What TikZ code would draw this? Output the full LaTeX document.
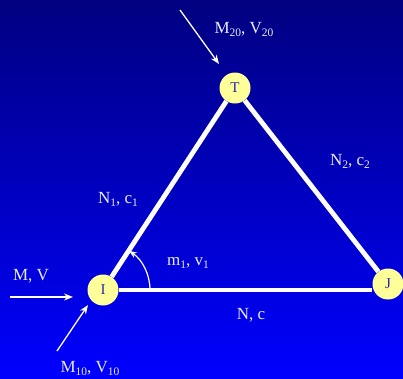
\documentclass[tikz,border=0pt]{standalone}
\usepackage{fontspec}
\setmainfont{Liberation Serif}
\usetikzlibrary{arrows.meta}
\definecolor{bgtop}{RGB}{0,0,128}
\definecolor{bgbot}{RGB}{0,0,255}
\definecolor{nodefill}{RGB}{255,255,153}
\definecolor{nodetext}{RGB}{40,40,170}
\definecolor{lbltext}{RGB}{235,235,255}
\newcommand\sbx[1]{\raisebox{-3.5pt}{\fontsize{11.5}{11.5}\selectfont #1}}
\tikzset{
  joint/.style={circle, fill=nodefill, minimum size=31pt, inner sep=0pt,
    text=nodetext, font=\fontsize{15}{15}\selectfont},
  member/.style={draw=white, line width=4.8pt},
  load/.style={draw=white, line width=1.3pt, -{Stealth[length=9pt,width=7pt]}},
  lbl/.style={text=lbltext, font=\fontsize{17}{19}\selectfont, inner sep=0pt, anchor=base}
}
\begin{document}
\begin{tikzpicture}[x=1pt,y=-1pt]
\useasboundingbox (0,0) rectangle (403,378);
\shade[top color=bgtop, bottom color=bgbot] (0,0) rectangle (403,378);

\node[joint] (I) at (103,290) {I};
\node[joint] (T) at (235,88) {T};
\node[joint] (J) at (388,284) {J};

\draw[member] (I) -- (T);
\draw[member] (T) -- (J);
\draw[member] (I.east) -- (I.east -| J.west);

% angle arc
\draw[white, line width=1.2pt, -{Stealth[length=8pt,width=6pt]}]
  ([shift={(0:47)}]I.center) arc[start angle=0, end angle=-56.5, radius=47];

% loads
\coordinate (tA) at (180,10);
\coordinate (tB) at (219,64);
\draw[load] (tA) -- (tB);
\coordinate (mA) at (10,297);
\coordinate (mB) at (73,297);
\draw[load] (mA) -- (mB);
\coordinate (iA) at (57,351);
\coordinate (iB) at (88,305);
\draw[load] (iA) -- (iB);

% labels
\node[lbl] (lT) at (244,33) {M\sbx{20}, V\sbx{20}};
\node[lbl] (lMV) at (31,280) {M, V};
\node[lbl] (lI) at (90,372) {M\sbx{10}, V\sbx{10}};
\node[lbl] (lN2) at (350,165) {N\sbx{2}, c\sbx{2}};
\node[lbl] (lN1) at (118,203) {N\sbx{1}, c\sbx{1}};
\node[lbl] (lm1) at (188,265) {m\sbx{1}, v\sbx{1}};
\node[lbl] (lN) at (251,319) {N, c};
\end{tikzpicture}
\end{document}
